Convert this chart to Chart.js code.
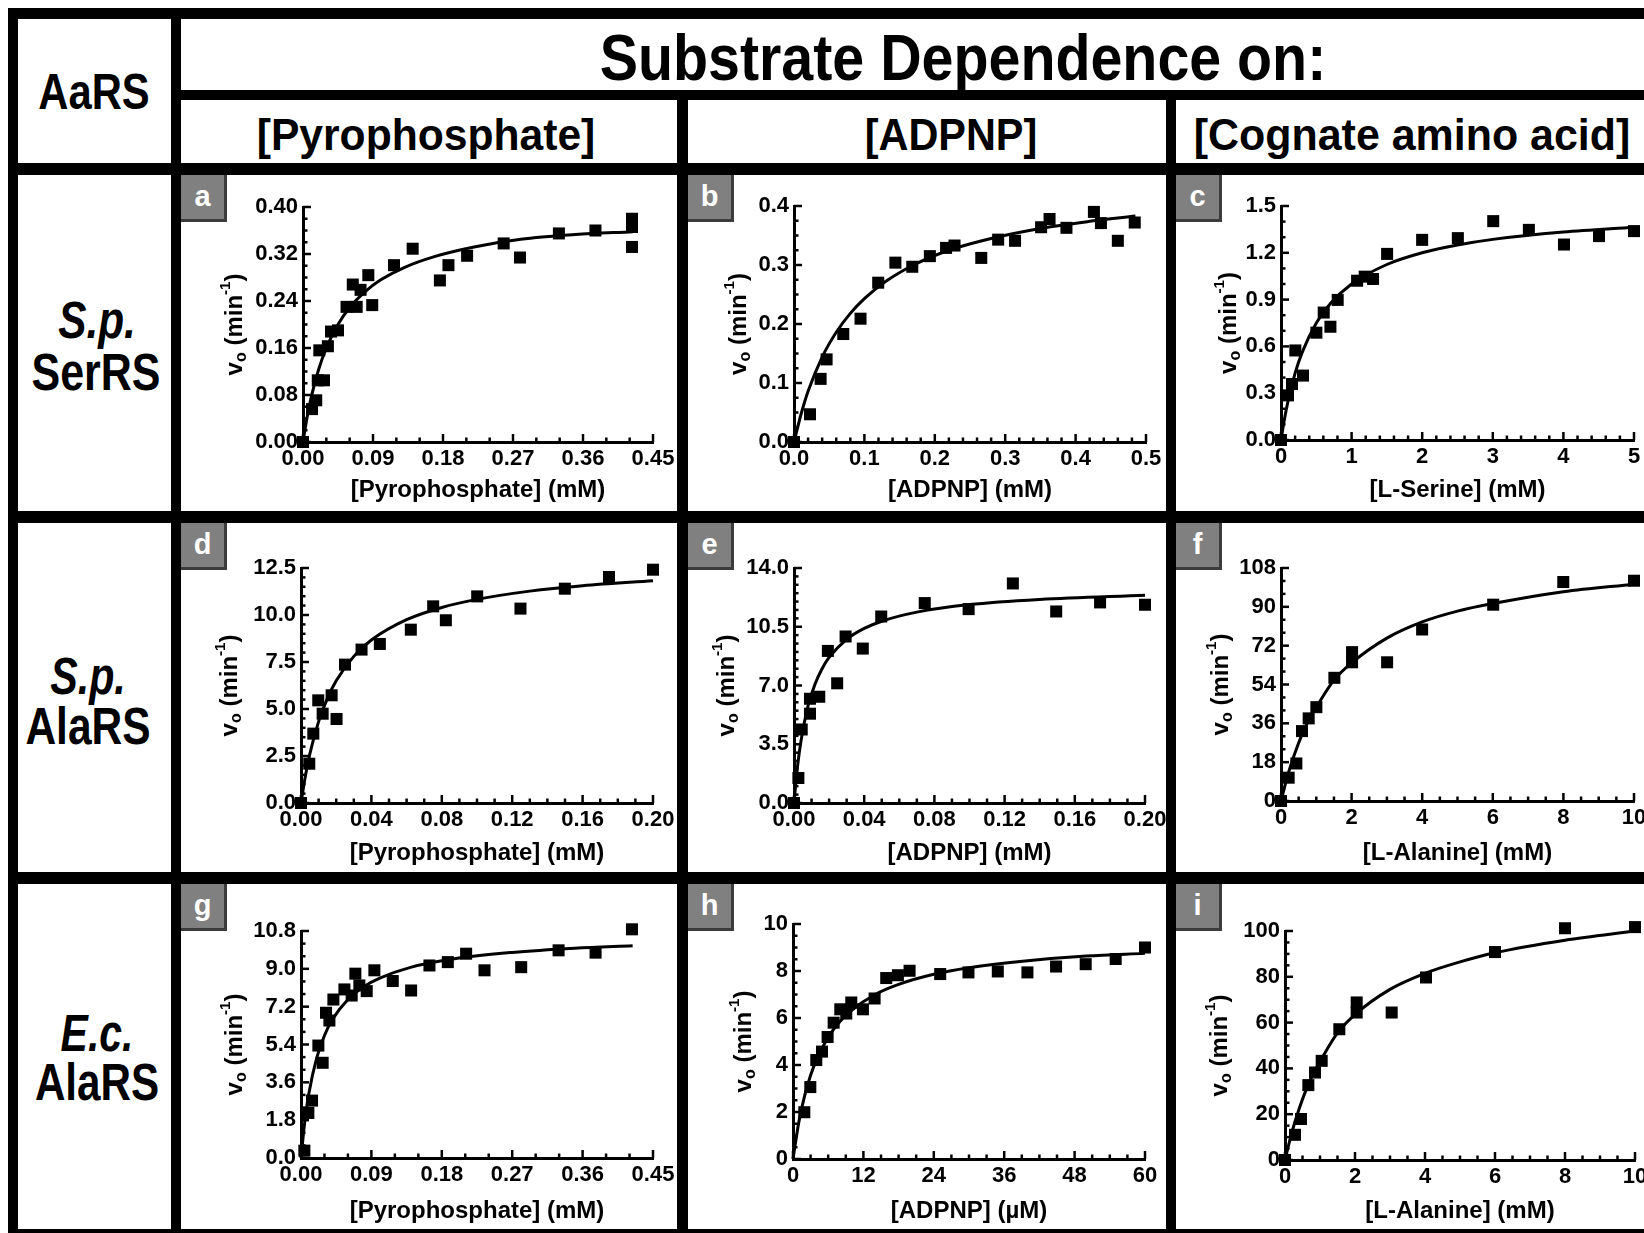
<!DOCTYPE html>
<html>
<head>
<meta charset="utf-8">
<script src="https://cdn.jsdelivr.net/npm/chart.js@4.4.1/dist/chart.umd.min.js"></script>
<style>
  body { margin: 0; width: 1644px; height: 1233px; overflow: hidden; position: relative; background: #fff;
         font-family: "Liberation Sans", Arial, Helvetica, sans-serif; font-weight: bold; }
  .line { position: absolute; background: #000; }
  .txt { position: absolute; white-space: nowrap; line-height: 1; color: #000; }
  .tag { position: absolute; width: 43px; height: 44px; background: #808080; color: #fff; font-size: 29px;
         border-right: 3px solid #3c3c3c; border-bottom: 3px solid #3c3c3c; text-align: center; line-height: 42px; }
  canvas { position: absolute; }
</style>
</head>
<body>
<script>
// ---- panel a: S.p. SerRS vs pyrophosphate
const aX = [0, 0.0116, 0.017, 0.019, 0.027, 0.021, 0.032, 0.036, 0.045, 0.056, 0.069, 0.064, 0.074, 0.084, 0.089, 0.117, 0.141, 0.176, 0.187, 0.211, 0.258, 0.279, 0.329, 0.376, 0.423, 0.423, 0.423];
const aY = [0, 0.056, 0.071, 0.105, 0.105, 0.156, 0.163, 0.188, 0.190, 0.230, 0.230, 0.268, 0.259, 0.284, 0.233, 0.301, 0.329, 0.275, 0.301, 0.317, 0.338, 0.314, 0.355, 0.360, 0.380, 0.366, 0.332];
const aFitX = [0, 0.005, 0.01, 0.02, 0.03, 0.045, 0.06, 0.08, 0.10, 0.13, 0.17, 0.22, 0.28, 0.35, 0.424];
const aFitY = [0, 0.040, 0.073, 0.123, 0.160, 0.200, 0.229, 0.256, 0.276, 0.297, 0.316, 0.332, 0.345, 0.353, 0.358];
const aXLabels = ["0.00", "0.09", "0.18", "0.27", "0.36", "0.45"];
const aYLabels = ["0.00", "0.08", "0.16", "0.24", "0.32", "0.40"];

// ---- panel b: S.p. SerRS vs ADPNP
const bX = [0, 0.0227, 0.0378, 0.0463, 0.070, 0.0945, 0.1196, 0.144, 0.168, 0.193, 0.216, 0.228, 0.266, 0.290, 0.314, 0.351, 0.363, 0.387, 0.426, 0.436, 0.460, 0.484];
const bY = [0, 0.047, 0.107, 0.140, 0.183, 0.209, 0.270, 0.304, 0.297, 0.315, 0.329, 0.333, 0.312, 0.343, 0.341, 0.364, 0.378, 0.363, 0.390, 0.371, 0.341, 0.372];
const bFitX = [0, 0.01, 0.02, 0.04, 0.06, 0.08, 0.10, 0.13, 0.17, 0.22, 0.28, 0.35, 0.42, 0.485];
const bFitY = [0, 0.047, 0.086, 0.144, 0.186, 0.218, 0.243, 0.272, 0.300, 0.325, 0.345, 0.362, 0.374, 0.383];
const bXLabels = ["0.0", "0.1", "0.2", "0.3", "0.4", "0.5"];
const bYLabels = ["0.0", "0.1", "0.2", "0.3", "0.4"];

// ---- panel c: S.p. SerRS vs L-serine
const cX = [0, 0.099, 0.156, 0.203, 0.312, 0.501, 0.605, 0.700, 0.803, 1.078, 1.186, 1.304, 1.503, 1.999, 2.505, 3.006, 3.511, 4.008, 4.504, 5.0];
const cY = [0, 0.286, 0.359, 0.574, 0.413, 0.688, 0.817, 0.726, 0.898, 1.021, 1.047, 1.032, 1.193, 1.283, 1.294, 1.403, 1.347, 1.253, 1.307, 1.339];
const cFitX = [0, 0.05, 0.1, 0.2, 0.3, 0.5, 0.7, 1.0, 1.5, 2.0, 2.5, 3.0, 4.0, 5.0];
const cFitY = [0, 0.136, 0.25, 0.429, 0.562, 0.75, 0.875, 1.0, 1.125, 1.2, 1.25, 1.286, 1.333, 1.364];
const cXLabels = ["0", "1", "2", "3", "4", "5"];
const cYLabels = ["0.0", "0.3", "0.6", "0.9", "1.2", "1.5"];

// ---- panel d: S.p. AlaRS vs pyrophosphate
const dX = [0, 0.0047, 0.0070, 0.0098, 0.0123, 0.0174, 0.0202, 0.0250, 0.0344, 0.0448, 0.0624, 0.0751, 0.0823, 0.1001, 0.1247, 0.1499, 0.175, 0.2];
const dY = [0, 2.09, 3.69, 5.46, 4.75, 5.73, 4.47, 7.36, 8.16, 8.46, 9.22, 10.46, 9.72, 10.99, 10.34, 11.40, 12.02, 12.41];
const dFitX = [0, 0.0025, 0.005, 0.01, 0.015, 0.02, 0.03, 0.04, 0.06, 0.08, 0.10, 0.13, 0.16, 0.20];
const dFitY = [0, 1.44, 2.6, 4.33, 5.57, 6.5, 7.8, 8.67, 9.75, 10.4, 10.83, 11.27, 11.56, 11.82];
const dXLabels = ["0.00", "0.04", "0.08", "0.12", "0.16", "0.20"];
const dYLabels = ["0.0", "2.5", "5.0", "7.5", "10.0", "12.5"];

// ---- panel e: S.p. AlaRS vs ADPNP
const eX = [0, 0.0025, 0.0044, 0.0091, 0.0091, 0.0144, 0.0193, 0.0246, 0.0294, 0.0392, 0.0497, 0.0745, 0.0995, 0.1247, 0.1494, 0.1744, 0.2];
const eY = [0, 1.49, 4.38, 5.32, 6.21, 6.33, 9.06, 7.13, 9.92, 9.20, 11.11, 11.91, 11.55, 13.08, 11.41, 11.95, 11.81];
const eFitX = [0, 0.002, 0.004, 0.008, 0.012, 0.016, 0.02, 0.03, 0.04, 0.05, 0.07, 0.10, 0.14, 0.20];
const eFitY = [0, 2.17, 3.71, 5.78, 7.09, 8.0, 8.67, 9.75, 10.4, 10.83, 11.37, 11.82, 12.13, 12.38];
const eXLabels = ["0.00", "0.04", "0.08", "0.12", "0.16", "0.20"];
const eYLabels = ["0.0", "3.5", "7.0", "10.5", "14.0"];

// ---- panel f: S.p. AlaRS vs L-alanine
const fX = [0, 0.217, 0.435, 0.595, 0.784, 1.002, 1.512, 2.013, 2.013, 3.006, 3.998, 6.011, 7.996, 10.0];
const fY = [0, 10.8, 17.4, 32.4, 38.3, 43.5, 57.1, 69.0, 64.3, 64.3, 79.5, 91.0, 101.5, 102.1];
const fFitX = [0, 0.2, 0.4, 0.6, 0.8, 1.0, 1.5, 2, 3, 4, 5, 6, 8, 10];
const fFitY = [0, 12.5, 22.5, 31, 38, 43.5, 56, 64, 75.5, 83, 88, 91.5, 97, 100.5];
const fXLabels = ["0", "2", "4", "6", "8", "10"];
const fYLabels = ["0", "18", "36", "54", "72", "90", "108"];

// ---- panel g: E.c. AlaRS vs pyrophosphate
const gX = [0.0043, 0.0094, 0.0141, 0.0222, 0.0277, 0.032, 0.0363, 0.0414, 0.0555, 0.0648, 0.0695, 0.0746, 0.0840, 0.0938, 0.1173, 0.1408, 0.1642, 0.1877, 0.2111, 0.2346, 0.2815, 0.3293, 0.3766, 0.4231];
const gY = [0.35, 2.14, 2.73, 5.35, 4.53, 6.91, 6.54, 7.54, 8.02, 7.73, 8.77, 8.21, 7.94, 8.93, 8.42, 7.97, 9.16, 9.32, 9.72, 8.93, 9.08, 9.88, 9.77, 10.88];
const gFitX = [0, 0.005, 0.01, 0.02, 0.03, 0.04, 0.06, 0.08, 0.10, 0.14, 0.20, 0.27, 0.35, 0.424];
const gFitY = [0, 1.78, 3.06, 4.75, 5.83, 6.58, 7.54, 8.15, 8.55, 9.07, 9.5, 9.78, 9.98, 10.1];
const gXLabels = ["0.00", "0.09", "0.18", "0.27", "0.36", "0.45"];
const gYLabels = ["0.0", "1.8", "3.6", "5.4", "7.2", "9.0", "10.8"];

// ---- panel h: E.c. AlaRS vs ADPNP (uM)
const hX = [1.93, 2.95, 3.97, 4.94, 5.90, 6.93, 8.06, 9.08, 9.93, 11.92, 13.91, 15.89, 17.88, 19.87, 25.09, 29.91, 34.91, 39.96, 44.84, 49.89, 55.0, 60.0];
const hY = [1.99, 3.06, 4.21, 4.57, 5.19, 5.80, 6.37, 6.19, 6.66, 6.37, 6.83, 7.70, 7.82, 8.01, 7.87, 7.94, 7.98, 7.94, 8.19, 8.29, 8.51, 9.0];
const hFitX = [0, 1, 2, 3, 4, 6, 8, 10, 14, 18, 24, 30, 40, 50, 60];
const hFitY = [0, 1.58, 2.71, 3.56, 4.22, 5.18, 5.85, 6.33, 7.0, 7.43, 7.86, 8.14, 8.44, 8.64, 8.75];
const hXLabels = ["0", "12", "24", "36", "48", "60"];
const hYLabels = ["0", "2", "4", "6", "8", "10"];

// ---- panel i: E.c. AlaRS vs L-alanine
const iX = [0, 0.286, 0.457, 0.667, 0.857, 1.048, 1.552, 2.048, 2.048, 3.048, 4.029, 6.0, 8.0, 10.0];
const iY = [0, 11.0, 17.9, 32.7, 38.2, 43.3, 57.1, 68.8, 64.4, 64.4, 79.7, 90.8, 101.2, 101.7];
const iFitX = [0, 0.2, 0.4, 0.6, 0.8, 1.0, 1.5, 2, 3, 4, 5, 6, 8, 10];
const iFitY = [0, 12.3, 22.2, 30.5, 37.5, 43, 55.5, 63.5, 74.5, 81.5, 86.5, 90.5, 96, 100];
const iXLabels = ["0", "2", "4", "6", "8", "10"];
const iYLabels = ["0", "20", "40", "60", "80", "100"];

// table frame
const lines = [
  [8, 8, 1636, 11], [8, 8, 10, 1225], [171, 90, 1473, 10], [8, 163, 1636, 12],
  [8, 511, 1636, 12], [8, 872, 1636, 12], [8, 1229, 1636, 4],
  [171, 8, 10, 1225], [677, 90, 11, 1143], [1166, 90, 10, 1143]
];
lines.forEach(([x, y, w, h]) => {
  const d = document.createElement('div');
  d.className = 'line';
  Object.assign(d.style, { left: x + 'px', top: y + 'px', width: w + 'px', height: h + 'px' });
  document.body.appendChild(d);
});

const texts = [
  { t: 'AaRS', x: 94, y: 92, s: 50, w: 111 },
  { t: 'Substrate Dependence on:', x: 963, y: 58, s: 64, w: 727 },
  { t: '[Pyrophosphate]', x: 426, y: 134, s: 45, w: 339 },
  { t: '[ADPNP]', x: 951, y: 134, s: 45, w: 173 },
  { t: '[Cognate amino acid]', x: 1412, y: 134, s: 45, w: 437 },
  { t: 'S.p.', x: 97, y: 320, s: 51, w: 78, it: true },
  { t: 'SerRS', x: 96, y: 372, s: 51, w: 129 },
  { t: 'S.p.', x: 88, y: 676, s: 51, w: 76, it: true },
  { t: 'AlaRS', x: 88, y: 726, s: 51, w: 125 },
  { t: 'E.c.', x: 97, y: 1033, s: 51, w: 73, it: true },
  { t: 'AlaRS', x: 97, y: 1082, s: 51, w: 124 }
];
texts.forEach(o => {
  const d = document.createElement('div');
  d.className = 'txt';
  d.textContent = o.t;
  d.style.fontSize = o.s + 'px';
  if (o.it) d.style.fontStyle = 'italic';
  document.body.appendChild(d);
  const k = o.w / d.offsetWidth;
  d.style.left = o.x + 'px';
  d.style.top = o.y + 'px';
  d.style.transform = 'translate(-50%,-50%) scaleX(' + k.toFixed(3) + ')';
});

// inward ticks + axis titles (with sub/superscript)
const decor = {
  id: 'decor',
  afterDraw(chart, args, o) {
    const ctx = chart.ctx, a = chart.chartArea;
    const xs = chart.scales.x, ys = chart.scales.y;
    ctx.save();
    ctx.strokeStyle = '#000';
    ctx.lineWidth = 2.5;
    const ticks = (sc, labels, sub, horiz) => {
      const vals = labels.map(Number);
      const step = (vals[1] - vals[0]) / sub;
      const n = Math.round((vals[vals.length - 1] - vals[0]) / step);
      for (let k = 0; k <= n; k++) {
        const v = vals[0] + k * step;
        const len = k % sub === 0 ? 8 : 4.5;
        const p = sc.getPixelForValue(v);
        ctx.beginPath();
        if (horiz) { ctx.moveTo(p, a.bottom); ctx.lineTo(p, a.bottom - len); }
        else { ctx.moveTo(a.left, p); ctx.lineTo(a.left + len, p); }
        ctx.stroke();
      }
    };
    ticks(xs, o.xLabels, o.xMinor, true);
    ticks(ys, o.yLabels, o.yMinor, false);

    ctx.fillStyle = '#000';
    ctx.textBaseline = 'middle';
    ctx.textAlign = 'center';
    ctx.font = 'bold 24px "Liberation Sans", Arial, sans-serif';
    ctx.fillText(o.xTitle, (a.left + a.right) / 2, a.bottom + o.xOff);

    const parts = [
      { t: 'v', f: 24, d: 0 }, { t: 'o', f: 16, d: 7 }, { t: ' (min', f: 24, d: 0 },
      { t: '-1', f: 15, d: -9 }, { t: ')', f: 24, d: 0 }
    ];
    let total = 0;
    parts.forEach(p => { ctx.font = 'bold ' + p.f + 'px "Liberation Sans", Arial, sans-serif'; p.w = ctx.measureText(p.t).width; total += p.w; });
    ctx.translate(a.left - o.yOff, (a.top + a.bottom) / 2);
    ctx.rotate(-Math.PI / 2);
    ctx.textAlign = 'left';
    let cx = -total / 2;
    parts.forEach(p => {
      ctx.font = 'bold ' + p.f + 'px "Liberation Sans", Arial, sans-serif';
      ctx.fillText(p.t, cx, p.d);
      cx += p.w;
    });
    ctx.restore();
  }
};

function panel(tag, cell, area, x, y, fitX, fitY, xLabels, yLabels, xMinor, yMinor, xTitle, yOff, xOff) {
  const [cxp, cyp, cw, ch] = cell;
  const cv = document.createElement('canvas');
  cv.width = cw; cv.height = ch;
  Object.assign(cv.style, { left: cxp + 'px', top: cyp + 'px', width: cw + 'px', height: ch + 'px' });
  document.body.appendChild(cv);

  const t = document.createElement('div');
  t.className = 'tag';
  t.textContent = tag;
  Object.assign(t.style, { left: cxp + 'px', top: cyp + 'px' });
  document.body.appendChild(t);

  const [L, T, R, B] = area;
  const tickFont = { family: '"Liberation Sans", Arial, sans-serif', size: 22, weight: 'bold' };
  const fixTicks = labels => sc => { sc.ticks = labels.map(l => ({ value: Number(l) })); };
  new Chart(cv, {
    type: 'scatter',
    data: {
      datasets: [
        {
          data: x.map((v, i) => ({ x: v, y: y[i] })),
          pointStyle: 'rect', pointRadius: 8.5, backgroundColor: '#000', borderWidth: 0, clip: false, order: 0
        },
        {
          type: 'line', data: fitX.map((v, i) => ({ x: v, y: fitY[i] })),
          borderColor: '#000', borderWidth: 3, pointRadius: 0, fill: false,
          cubicInterpolationMode: 'monotone', clip: false, order: 1
        }
      ]
    },
    options: {
      responsive: false, animation: false, events: [],
      layout: { padding: { left: 0, top: T - cyp, right: cxp + cw - R, bottom: 0 } },
      plugins: {
        legend: { display: false }, tooltip: { enabled: false },
        decor: { xLabels, yLabels, xMinor, yMinor, xTitle, yOff, xOff }
      },
      scales: {
        x: {
          type: 'linear', min: Number(xLabels[0]), max: Number(xLabels[xLabels.length - 1]),
          grid: { display: false, drawTicks: false }, border: { color: '#000', width: 3 },
          ticks: { color: '#000', font: tickFont, padding: 4, maxRotation: 0, autoSkip: false,
                   callback: (v, i) => xLabels[i] },
          afterBuildTicks: fixTicks(xLabels),
          afterFit: sc => { sc.height = cyp + ch - B; sc.paddingLeft = 0; sc.paddingRight = 0; }
        },
        y: {
          type: 'linear', min: Number(yLabels[0]), max: Number(yLabels[yLabels.length - 1]),
          grid: { display: false, drawTicks: false }, border: { color: '#000', width: 3 },
          ticks: { color: '#000', font: tickFont, padding: 5, autoSkip: false,
                   callback: (v, i) => yLabels[i] },
          afterBuildTicks: fixTicks(yLabels),
          afterFit: sc => { sc.width = L - cxp; sc.paddingTop = 0; sc.paddingBottom = 0; }
        }
      }
    },
    plugins: [decor]
  });
}

panel('a', [181, 175, 496, 336], [303, 207, 653, 442], aX, aY, aFitX, aFitY, aXLabels, aYLabels, 3, 4, '[Pyrophosphate] (mM)', 68, 48);
panel('b', [688, 175, 478, 336], [794, 206, 1146, 442], bX, bY, bFitX, bFitY, bXLabels, bYLabels, 5, 4, '[ADPNP] (mM)', 55, 48);
panel('c', [1176, 175, 468, 336], [1281, 206, 1634, 440], cX, cY, cFitX, cFitY, cXLabels, cYLabels, 5, 3, '[L-Serine] (mM)', 52, 50);
panel('d', [181, 523, 496, 349], [301, 568, 653, 803], dX, dY, dFitX, dFitY, dXLabels, dYLabels, 4, 5, '[Pyrophosphate] (mM)', 71, 50);
panel('e', [688, 523, 478, 349], [794, 568, 1145, 803], eX, eY, eFitX, eFitY, eXLabels, eYLabels, 4, 7, '[ADPNP] (mM)', 67, 50);
panel('f', [1176, 523, 468, 349], [1281, 568, 1634, 801], fX, fY, fFitX, fFitY, fXLabels, fYLabels, 4, 3, '[L-Alanine] (mM)', 60, 52);
panel('g', [181, 884, 496, 345], [301, 931, 653, 1158], gX, gY, gFitX, gFitY, gXLabels, gYLabels, 3, 3, '[Pyrophosphate] (mM)', 66, 53);
panel('h', [688, 884, 478, 345], [793, 924, 1145, 1159], hX, hY, hFitX, hFitY, hXLabels, hYLabels, 4, 4, '[ADPNP] (\u00B5M)', 49, 52);
panel('i', [1176, 884, 468, 345], [1285, 931, 1635, 1160], iX, iY, iFitX, iFitY, iXLabels, iYLabels, 4, 4, '[L-Alanine] (mM)', 65, 51);
</script>
</body>
</html>
